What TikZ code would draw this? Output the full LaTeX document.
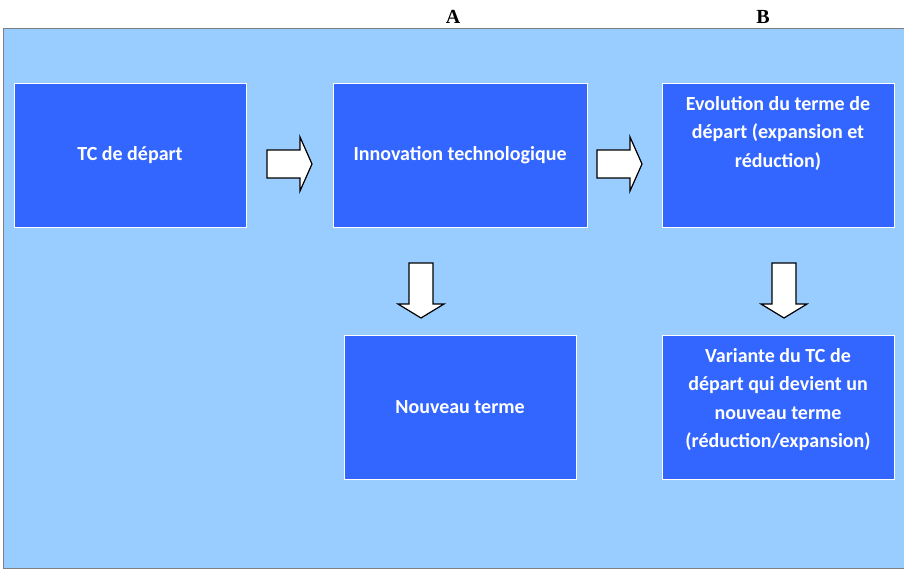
\documentclass[tikz,border=0pt]{standalone}
\usepackage{fontspec}
\newfontfamily\calibri{Carlito}
\newfontfamily\serifhead{Liberation Serif}

\definecolor{boxblue}{HTML}{3366FF}
\definecolor{skyblue}{HTML}{99CCFF}

\tikzset{
  box/.style={rectangle,draw=white,line width=0.8pt,fill=boxblue,minimum width=232pt,minimum height=144pt,inner sep=0pt},
  boxtext/.style={text=white,align=center,font=\calibri\bfseries\fontsize{20}{28.5}\selectfont},
  blockarrow/.style={draw=black,fill=white,line width=1.2pt,line join=miter},
  colhead/.style={font=\serifhead\bfseries\fontsize{20}{24}\selectfont}
}

\begin{document}
\begin{tikzpicture}[x=1pt,y=-1pt]
\useasboundingbox (0,0) rectangle (904,569);
\path[draw=gray,line width=1pt,fill=skyblue] (3,29) rectangle (910,568);

\path (453,17) node[colhead] (colA) {A};
\path (763,17) node[colhead] (colB) {B};

\path (130,155) node[box,boxtext] (depart) {TC de départ};
\path (460,155) node[box,boxtext,minimum width=254pt] (innov) {Innovation technologique};
\path (778,155) node[box] (evol) {};
\path (778,133) node[boxtext] (evoltext) {Evolution du terme de\\départ (expansion et\\réduction)};

\path (460,407.5) node[box,boxtext] (nouveau) {Nouveau terme};
\path (778,407.5) node[box] (variante) {};
\path (778,399.5) node[boxtext] (vartext) {Variante du TC de\\départ qui devient un\\nouveau terme\\(réduction/expansion)};

% block arrows between the boxes
\coordinate (r1) at (267,150);
\draw[blockarrow] (r1) -- ++(33,0) -- ++(0,-13) -- ++(12,27) -- ++(-12,27) -- ++(0,-13) -- ++(-33,0) -- cycle;
\coordinate (r2) at (597,150);
\draw[blockarrow] (r2) -- ++(33,0) -- ++(0,-13) -- ++(12,27) -- ++(-12,27) -- ++(0,-13) -- ++(-33,0) -- cycle;
\coordinate (d1) at (409,263);
\draw[blockarrow] (d1) -- ++(0,41) -- ++(-11,0) -- ++(23,14) -- ++(23,-14) -- ++(-11,0) -- ++(0,-41) -- cycle;
\coordinate (d2) at (772,263);
\draw[blockarrow] (d2) -- ++(0,41) -- ++(-11,0) -- ++(23,14) -- ++(23,-14) -- ++(-11,0) -- ++(0,-41) -- cycle;
\end{tikzpicture}
\end{document}
